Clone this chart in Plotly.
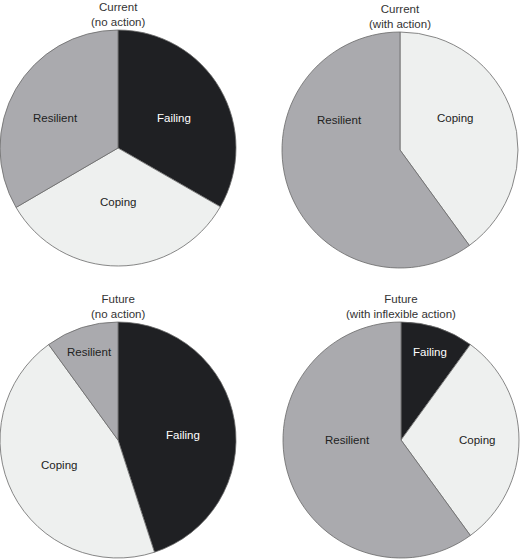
import plotly.graph_objects as go

# Data
titles = ["Current<br>(no action)", "Current<br>(with action)",
          "Future<br>(no action)", "Future<br>(with inflexible action)"]
labels_1 = ["Failing", "Coping", "Resilient"]
values_1 = [33.3, 33.3, 33.4]
labels_2 = ["Coping", "Resilient"]
values_2 = [40, 60]
labels_3 = ["Failing", "Coping", "Resilient"]
values_3 = [45, 45, 10]
labels_4 = ["Failing", "Coping", "Resilient"]
values_4 = [10, 30, 60]

colors = {"Failing": "#1f2023", "Coping": "#eef0ef", "Resilient": "#aaaaae"}
text_colors = {"Failing": "#ffffff", "Coping": "#222222", "Resilient": "#222222"}
FONT = "Liberation Sans, Arial, sans-serif"
FS = 11.5

W, H = 520, 559
# pixel boxes (left, top, size) of each pie
boxes = [(0, 30, 236), (282, 32, 236), (0, 322, 236), (283, 322, 236)]
# slice label placement: (pie index, label) -> offset from pie centre in px
label_pos = {(0, "Failing"): (56, -30), (0, "Coping"): (0, 54), (0, "Resilient"): (-63, -30),
             (1, "Resilient"): (-61, -30), (1, "Coping"): (55, -32),
             (2, "Failing"): (65, -5), (2, "Coping"): (-59, 25), (2, "Resilient"): (-29, -88),
             (3, "Failing"): (29, -88), (3, "Coping"): (76, 0), (3, "Resilient"): (-54, 0)}

fig = go.Figure()
for i, ((labels, values), (lx, ty, s), title) in enumerate(zip(
        [(labels_1, values_1), (labels_2, values_2), (labels_3, values_3), (labels_4, values_4)],
        boxes, titles)):
    dom_x = [lx / W, (lx + s) / W]
    dom_y = [1 - (ty + s) / H, 1 - ty / H]
    fig.add_trace(go.Pie(
        labels=labels, values=values, sort=False, direction="clockwise", rotation=0,
        textinfo="none",
        marker=dict(colors=[colors[l] for l in labels], line=dict(color="#6a6a6a", width=0.8)),
        domain=dict(x=dom_x, y=dom_y), hoverinfo="skip", showlegend=False,
    ))
    fig.add_annotation(x=(dom_x[0] + dom_x[1]) / 2, y=dom_y[1], xref="paper", yref="paper",
                       text=title, showarrow=False, xanchor="center", yanchor="bottom",
                       font=dict(family=FONT, size=FS, color="#333333"))
    for l in labels:
        dx, dy = label_pos[(i, l)]
        cx = lx + s / 2 + dx
        cy = ty + s / 2 + dy
        fig.add_annotation(x=cx / W, y=1 - cy / H, xref="paper", yref="paper",
                           text=l, showarrow=False, xanchor="center", yanchor="middle",
                           font=dict(family=FONT, size=FS, color=text_colors[l]))

fig.update_layout(width=W, height=H, margin=dict(l=0, r=0, t=0, b=0),
                  paper_bgcolor="white", plot_bgcolor="white")
fig.write_html("out.html", config={"displayModeBar": False},
               post_script="document.body.style.margin='0px';")
